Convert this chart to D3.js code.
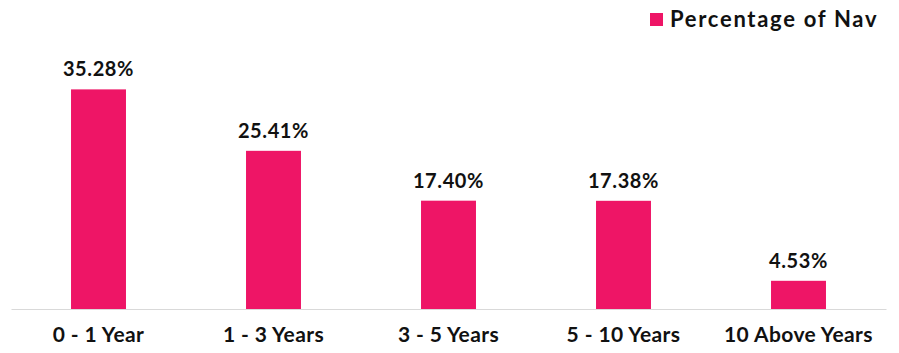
<!DOCTYPE html>
<html>
<head>
<meta charset="utf-8">
<script src="https://cdn.jsdelivr.net/npm/d3@7"></script>
<style>
  body { margin: 0; background: #fff; }
  svg text { font-family: Lato, "Open Sans", sans-serif; font-weight: bold; fill: #111; }
</style>
</head>
<body>
<div id="chart"></div>
<script>
var categories = ["0 - 1 Year", "1 - 3 Years", "3 - 5 Years", "5 - 10 Years", "10 Above Years"];
var values     = [35.28, 25.41, 17.40, 17.38, 4.53];
var seriesName = "Percentage of Nav";

var width = 899, height = 353;
var margin = {top: 60, right: 13, bottom: 44, left: 11};

var svg = d3.select("#chart").append("svg")
  .attr("width", width)
  .attr("height", height);

var x = d3.scaleBand()
  .domain(categories)
  .range([margin.left, width - margin.right])
  .paddingInner(0.686)
  .paddingOuter(0.343);

var y = d3.scaleLinear()
  .domain([0, 40])
  .range([height - margin.bottom, margin.top]);

// Bars
svg.selectAll("rect.bar")
  .data(values)
  .enter()
  .append("rect")
  .attr("class", "bar")
  .attr("x", function(d, i){ return x(categories[i]) })
  .attr("y", function(d){ return y(d) })
  .attr("width", x.bandwidth())
  .attr("height", function(d){ return y(0) - y(d) })
  .attr("fill", "#ee1566");

// Value labels
svg.selectAll("text.val")
  .data(values)
  .enter()
  .append("text")
  .attr("class", "val")
  .attr("x", function(d, i){ return x(categories[i]) + x.bandwidth() / 2 })
  .attr("y", function(d){ return y(d) - 13 })
  .attr("text-anchor", "middle")
  .style("font-size", "20px")
  .style("letter-spacing", "0.6px")
  .text(function(d){ return d.toFixed(2) + "%" });

// X axis
var xAxis = svg.append("g")
  .attr("transform", "translate(0," + y(0) + ")")
  .call(d3.axisBottom(x).tickSize(0).tickPadding(18));
xAxis.select(".domain").attr("stroke", "#d9d9d9");
xAxis.selectAll("text")
  .style("font-size", "21px")
  .style("letter-spacing", "0.4px")
  .attr("fill", "#111");

// Legend
var legend = svg.append("g").attr("transform", "translate(650,13)");
legend.append("rect")
  .attr("width", 13).attr("height", 13)
  .attr("fill", "#ee1566");
legend.append("text")
  .attr("x", 20).attr("y", 14)
  .style("font-size", "22px")
  .style("letter-spacing", "1.7px")
  .text(seriesName);
</script>
</body>
</html>
